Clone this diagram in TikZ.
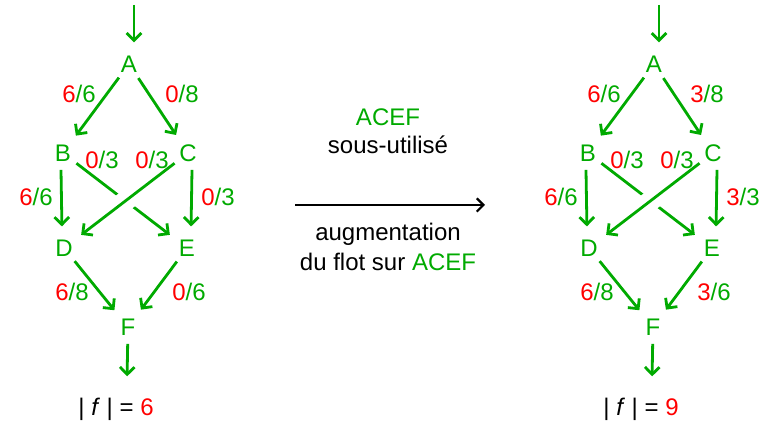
\documentclass[tikz,border=0pt]{standalone}
\usepackage{fontspec}
\setmainfont{Liberation Sans}
\usetikzlibrary{arrows.meta,calc}
\definecolor{fgreen}{RGB}{0,170,0}
\definecolor{fred}{RGB}{255,0,0}
\tikzset{
  vtx/.style={circle, inner sep=0pt, minimum size=25pt, text=fgreen, font=\fontsize{18}{21}\selectfont},
  flow/.style={draw=fgreen, line width=2.1pt, -{Straight Barb[length=5.5pt,width=11pt,line width=2.1pt]}, shorten >=3.5pt},
  lbl/.style={text=fgreen, font=\fontsize{18}{21}\selectfont, inner sep=0pt},
  txt/.style={text=black, font=\fontsize{18}{21}\selectfont, inner sep=0pt},
  knockout/.style={draw=white, line width=15pt}
}
\newcommand{\fl}[2]{\textcolor{fred}{#1}/#2}
\begin{document}
\begin{tikzpicture}[x=0.75pt,y=-0.75pt]
\useasboundingbox (0,0) rectangle (776,427);

% one flow network, shifted by \dx pixels
\foreach \dx/\ac/\ce/\ef/\tot/\nm in {0/0/0/0/6/L, 525/3/3/3/9/R} {
  \begin{scope}[xshift=\dx*0.75pt]
    \node[vtx] (A\nm) at (129,64) {A};
    \node[vtx] (B\nm) at (63,153) {B};
    \node[vtx] (C\nm) at (188,153) {C};
    \node[vtx] (D\nm) at (64,248) {D};
    \node[vtx] (E\nm) at (187,248) {E};
    \node[vtx] (F\nm) at (128,327) {F};
    \coordinate (in\nm) at (134,5);
    \coordinate (out\nm) at (127,381);

    \draw[flow] (in\nm) -- (in\nm |- A\nm.north);
    \draw[flow] (A\nm) -- (B\nm);
    \draw[flow] (A\nm) -- (C\nm);
    \draw[flow] ([xshift=-1.5pt]B\nm.south) -- ([xshift=-1.5pt]D\nm.north);
    \draw[flow] ([xshift=3pt]C\nm.south) -- ([xshift=3pt]E\nm.north);
    \draw[flow] (B\nm) -- (E\nm);
    \draw[knockout] ($(C\nm)!0.42!(D\nm)$) -- ($(C\nm)!0.58!(D\nm)$);
    \draw[flow] (C\nm) -- (D\nm);
    \draw[flow] (D\nm) -- (F\nm);
    \draw[flow] (E\nm) -- (F\nm);
    \draw[flow] (F\nm) -- (out\nm);

    \node[lbl] (lab\nm) at (79,94) {\fl{6}{6}};
    \node[lbl] (lac\nm) at (182,94) {\fl{\ac}{8}};
    \node[lbl] (lbe\nm) at (102,160) {\fl{0}{3}};
    \node[lbl] (lcd\nm) at (152,160) {\fl{0}{3}};
    \node[lbl] (lbd\nm) at (36,197) {\fl{6}{6}};
    \node[lbl] (lce\nm) at (218,197) {\fl{\ce}{3}};
    \node[lbl] (ldf\nm) at (72,292) {\fl{6}{8}};
    \node[lbl] (lef\nm) at (189,292) {\fl{\ef}{6}};
    \node[txt] (val\nm) at (116,409) {| \textit{f} | = \textcolor{fred}{\tot}};
  \end{scope}
}

% the step between the two networks
\node[lbl] (path) at (388,117) {ACEF};
\node[txt] (under) at (388,145) {sous-utilisé};
\coordinate (s) at (295,205);
\coordinate (t) at (485,205);
\draw[line width=1.6pt, -{Straight Barb[length=5pt,width=10pt,line width=1.6pt]}] (s) -- (t);
\node[txt] (aug) at (388,234) {augmentation};
\node[txt] (sur) at (388,262) {du flot sur \textcolor{fgreen}{ACEF}};
\end{tikzpicture}
\end{document}
